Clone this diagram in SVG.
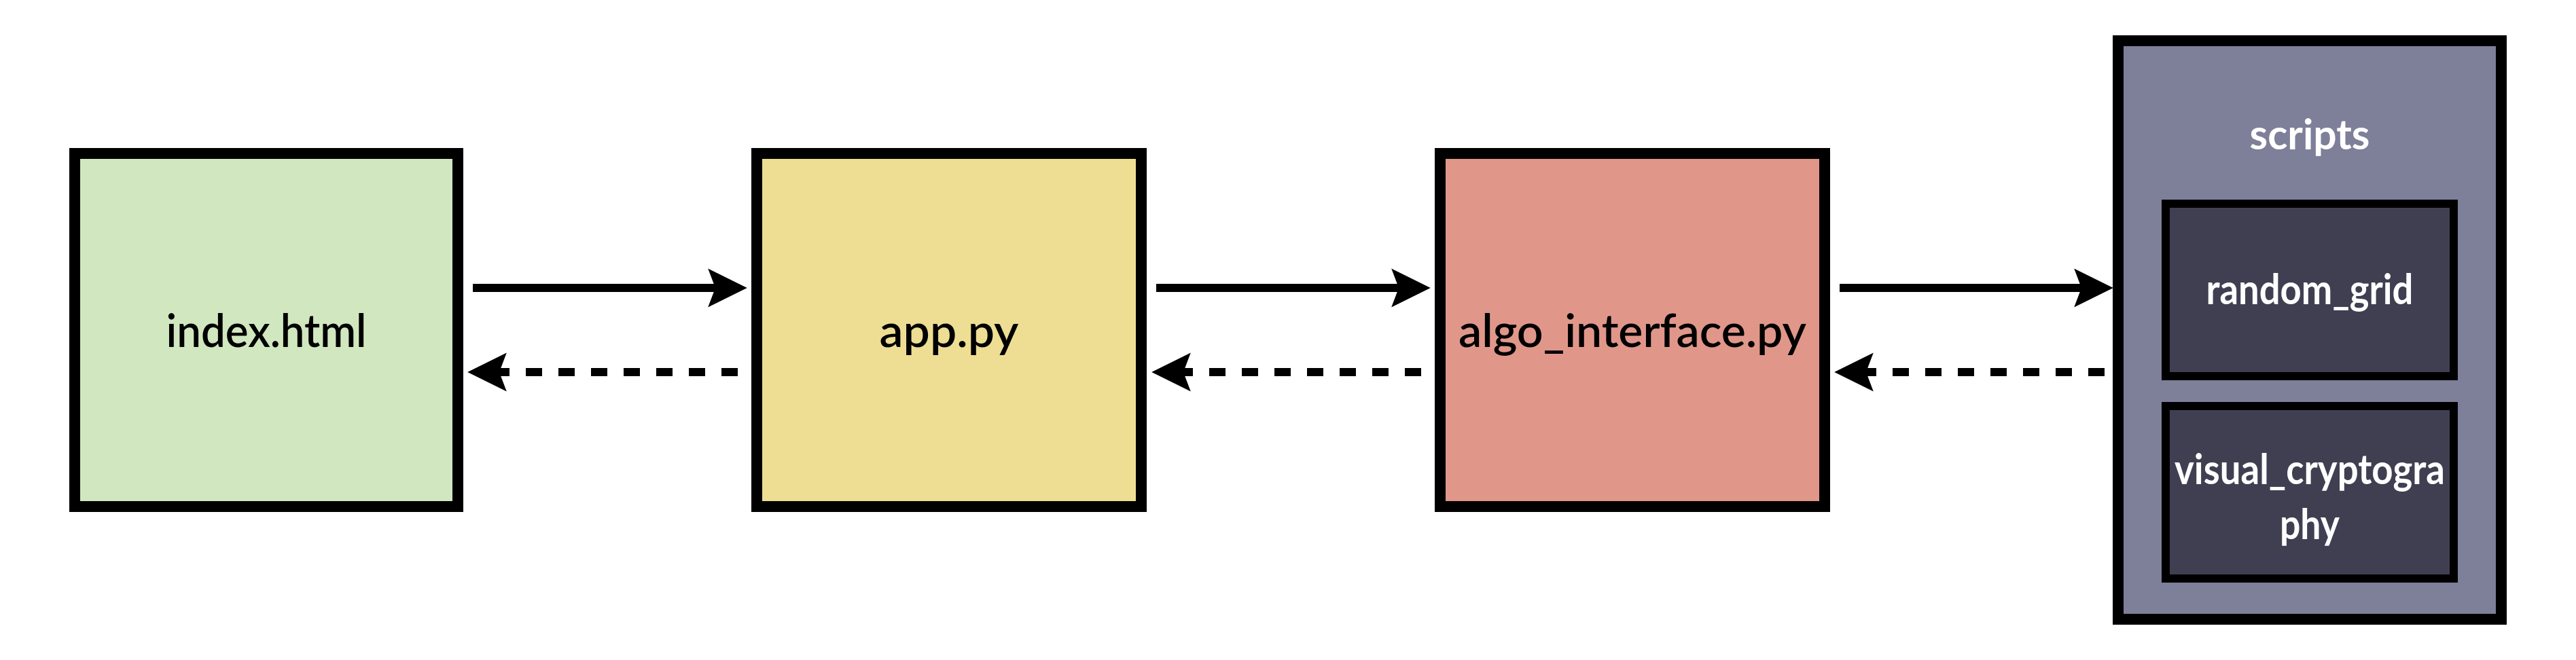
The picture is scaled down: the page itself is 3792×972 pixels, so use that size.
<svg xmlns="http://www.w3.org/2000/svg" width="3792" height="972" viewBox="0 0 3792 972">
  <style>
    .box { stroke: #000; stroke-width: 16; }
    .inner { fill: #403f52; stroke: #000; stroke-width: 12; }
    .lbl { font-family: Lato, "Liberation Sans", sans-serif; font-weight: 600; font-size: 68px; fill: #000; text-anchor: middle; }
    .wlbl { font-family: Lato, "Liberation Sans", sans-serif; font-weight: 700; font-size: 62px; fill: #fff; text-anchor: middle; }
    .solid { stroke: #000; stroke-width: 12; fill: none; marker-end: url(#head); }
    .dash { stroke: #000; stroke-width: 12; fill: none; stroke-dasharray: 24 24; marker-end: url(#head); }
  </style>
  <defs>
    <marker id="head" markerUnits="userSpaceOnUse" markerWidth="60" markerHeight="60" viewBox="-10 -25 50 50" refX="0" refY="0" orient="auto">
      <path d="M39,0 L-9,-23.7 L0,0 L-9,23.7 Z" fill="#000"/>
    </marker>
  </defs>
  <rect width="3792" height="972" fill="#fff"/>

  <g id="connectors">
    <path class="solid" d="M696,424 L1053,424"/>
    <path class="dash" d="M1086,548 L735,548"/>
    <path class="solid" d="M1702,424 L2059,424"/>
    <path class="dash" d="M2092,548 L1742,548"/>
    <path class="solid" d="M2708,424 L3064,424"/>
    <path class="dash" d="M3098,548 L2747,548"/>
  </g>

  <g id="node-index">
    <rect class="box" x="110" y="226" width="564" height="520" fill="#d1e7bf"/>
    <text class="lbl" x="392" y="511" textLength="295" lengthAdjust="spacingAndGlyphs">index.html</text>
  </g>

  <g id="node-app">
    <rect class="box" x="1114" y="226" width="566" height="520" fill="#eede93"/>
    <text class="lbl" x="1397" y="511" textLength="205" lengthAdjust="spacingAndGlyphs">app.py</text>
  </g>

  <g id="node-algo">
    <rect class="box" x="2120" y="226" width="566" height="520" fill="#e0978a"/>
    <text class="lbl" x="2403" y="511" textLength="512" lengthAdjust="spacingAndGlyphs">algo_interface.py</text>
  </g>

  <g id="node-scripts">
    <rect class="box" x="3118" y="60" width="564" height="852" fill="#7e7f99"/>
    <text class="wlbl" x="3400" y="220" textLength="177" lengthAdjust="spacingAndGlyphs">scripts</text>
  </g>

  <g id="node-random-grid">
    <rect class="inner" x="3188" y="300" width="424" height="254"/>
    <text class="wlbl" x="3400" y="448" textLength="305" lengthAdjust="spacingAndGlyphs">random_grid</text>
  </g>

  <g id="node-visual-cryptography">
    <rect class="inner" x="3188" y="598" width="424" height="254"/>
    <text class="wlbl" x="3400" y="713" textLength="398" lengthAdjust="spacingAndGlyphs">visual_cryptogra</text>
    <text class="wlbl" x="3400" y="794" textLength="88" lengthAdjust="spacingAndGlyphs">phy</text>
  </g>
</svg>
